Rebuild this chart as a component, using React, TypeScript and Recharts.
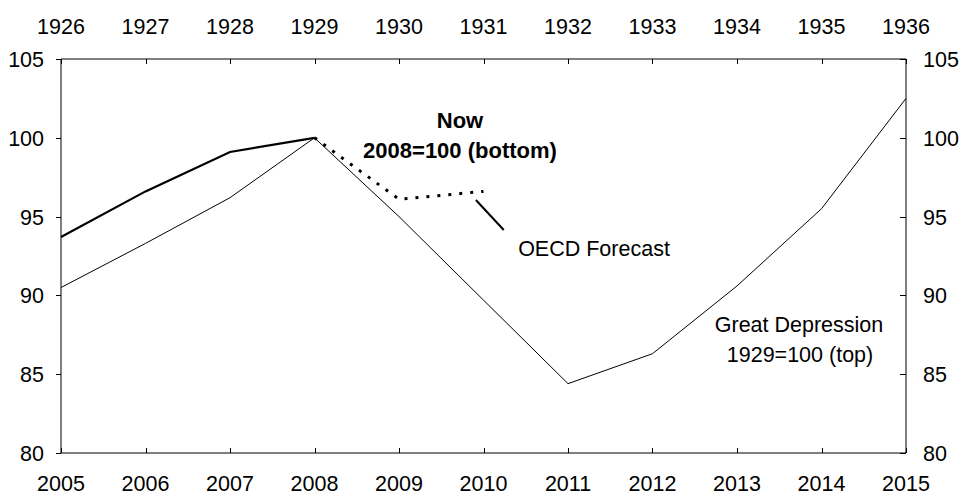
import {
  LineChart,
  Line,
  XAxis,
  YAxis,
  ReferenceLine,
} from "recharts";

const years = [2005, 2006, 2007, 2008, 2009, 2010, 2011, 2012, 2013, 2014, 2015];
const topYears = [1926, 1927, 1928, 1929, 1930, 1931, 1932, 1933, 1934, 1935, 1936];
const nowValues = [93.7, 96.6, 99.1, 100, null, null, null, null, null, null, null];
const forecastValues = [null, null, null, 100, 96.1, 96.6, null, null, null, null, null];
const depressionValues = [90.5, 93.3, 96.2, 100, 95.0, 89.7, 84.4, 86.3, 90.6, 95.5, 102.5];
const yTicks = [80, 85, 90, 95, 100, 105];

const data = years.map((year, i) => ({
  year,
  topYear: topYears[i],
  now: nowValues[i],
  forecast: forecastValues[i],
  depression: depressionValues[i],
}));

const FONT = "'Liberation Sans', Arial, sans-serif";
const FONT_SIZE = 21.5;
const W = 960;
const H = 496;

// snap to pixel centre so the small tick marks stay crisp
const px = (v: number) => Math.round(v) + 0.5;

// ticks drawn by hand so the marks can point inwards like the original
// eslint-disable-next-line @typescript-eslint/no-explicit-any
function BottomTick({ x, y, payload }: any) {
  return (
    <g>
      <path d={`M${px(x)},${y}V${y - 5}`} stroke="#000" strokeWidth={1} fill="none" />
      <text x={x} y={y + 38} textAnchor="middle" fontSize={FONT_SIZE} fontFamily={FONT} fill="#000">
        {payload.value}
      </text>
    </g>
  );
}

// eslint-disable-next-line @typescript-eslint/no-explicit-any
function TopTick({ x, y, payload }: any) {
  return (
    <g>
      <path d={`M${px(x)},${y}V${y + 5}`} stroke="#000" strokeWidth={1} fill="none" />
      <text x={x} y={y - 25} textAnchor="middle" fontSize={FONT_SIZE} fontFamily={FONT} fill="#000">
        {payload.value}
      </text>
    </g>
  );
}

// eslint-disable-next-line @typescript-eslint/no-explicit-any
function LeftTick({ x, y, payload }: any) {
  return (
    <g>
      <path d={`M${x - 5},${px(y)}H${x}`} stroke="#000" strokeWidth={1} fill="none" />
      <text x={x - 17} y={y + 8} textAnchor="end" fontSize={FONT_SIZE} fontFamily={FONT} fill="#000">
        {payload.value}
      </text>
    </g>
  );
}

// eslint-disable-next-line @typescript-eslint/no-explicit-any
function RightTick({ x, y, payload }: any) {
  return (
    <g>
      <path d={`M${x - 6},${px(y)}H${x}`} stroke="#000" strokeWidth={1} fill="none" />
      <text x={x + 17} y={y + 8} textAnchor="start" fontSize={FONT_SIZE} fontFamily={FONT} fill="#000">
        {payload.value}
      </text>
    </g>
  );
}

export default function App() {
  return (
    <div style={{ position: "absolute", left: 0, top: 0, width: W, height: H, background: "#fff" }}>
      <LineChart width={W} height={H} data={data} margin={{ top: 0, right: 0, left: 0, bottom: 0 }}>
        <XAxis
          xAxisId="bottom"
          dataKey="year"
          type="number"
          domain={[2005, 2015]}
          ticks={years}
          orientation="bottom"
          height={43}
          tickSize={0}
          tickMargin={0}
          tickLine={false}
          axisLine={{ stroke: "#000" }}
          tick={<BottomTick />}
          interval={0}
        />
        <XAxis
          xAxisId="top"
          dataKey="topYear"
          type="number"
          domain={[1926, 1936]}
          ticks={topYears}
          orientation="top"
          height={59}
          tickSize={0}
          tickMargin={0}
          tickLine={false}
          axisLine={{ stroke: "#000" }}
          tick={<TopTick />}
          interval={0}
        />
        <YAxis
          yAxisId="left"
          domain={[80, 105]}
          ticks={yTicks}
          width={61}
          tickSize={0}
          tickMargin={0}
          tickLine={false}
          axisLine={{ stroke: "#000" }}
          tick={<LeftTick />}
          interval={0}
        />
        <YAxis
          yAxisId="right"
          orientation="right"
          domain={[80, 105]}
          ticks={yTicks}
          width={54}
          tickSize={0}
          tickMargin={0}
          tickLine={false}
          axisLine={{ stroke: "#000" }}
          tick={<RightTick />}
          interval={0}
        />
        {/* Great Depression is indexed on the top/right axes (1929=100) */}
        <Line
          xAxisId="top"
          yAxisId="right"
          dataKey="depression"
          stroke="#000"
          strokeWidth={1}
          dot={false}
          isAnimationActive={false}
        />
        <Line
          xAxisId="bottom"
          yAxisId="left"
          dataKey="now"
          stroke="#000"
          strokeWidth={2.2}
          dot={false}
          isAnimationActive={false}
        />
        <Line
          xAxisId="bottom"
          yAxisId="left"
          dataKey="forecast"
          stroke="#000"
          strokeWidth={3}
          strokeDasharray="3 8"
          dot={false}
          isAnimationActive={false}
        />
        <ReferenceLine
          xAxisId="bottom"
          yAxisId="left"
          segment={[
            { x: 2009.91, y: 96.05 },
            { x: 2010.24, y: 94.15 },
          ]}
          stroke="#000"
          strokeWidth={2}
        />
      </LineChart>
      <svg
        width={W}
        height={H}
        style={{ position: "absolute", left: 0, top: 0, pointerEvents: "none" }}
        fontFamily={FONT}
        fontSize={FONT_SIZE}
      >
        <text x={460} y={128} textAnchor="middle" fontWeight="bold" fontSize={22}>Now</text>
        <text x={460} y={158} textAnchor="middle" fontWeight="bold" fontSize={22}>2008=100 (bottom)</text>
        <text x={594} y={256} textAnchor="middle">OECD Forecast</text>
        <text x={799} y={332} textAnchor="middle">Great Depression</text>
        <text x={800} y={362} textAnchor="middle">1929=100 (top)</text>
      </svg>
    </div>
  );
}
